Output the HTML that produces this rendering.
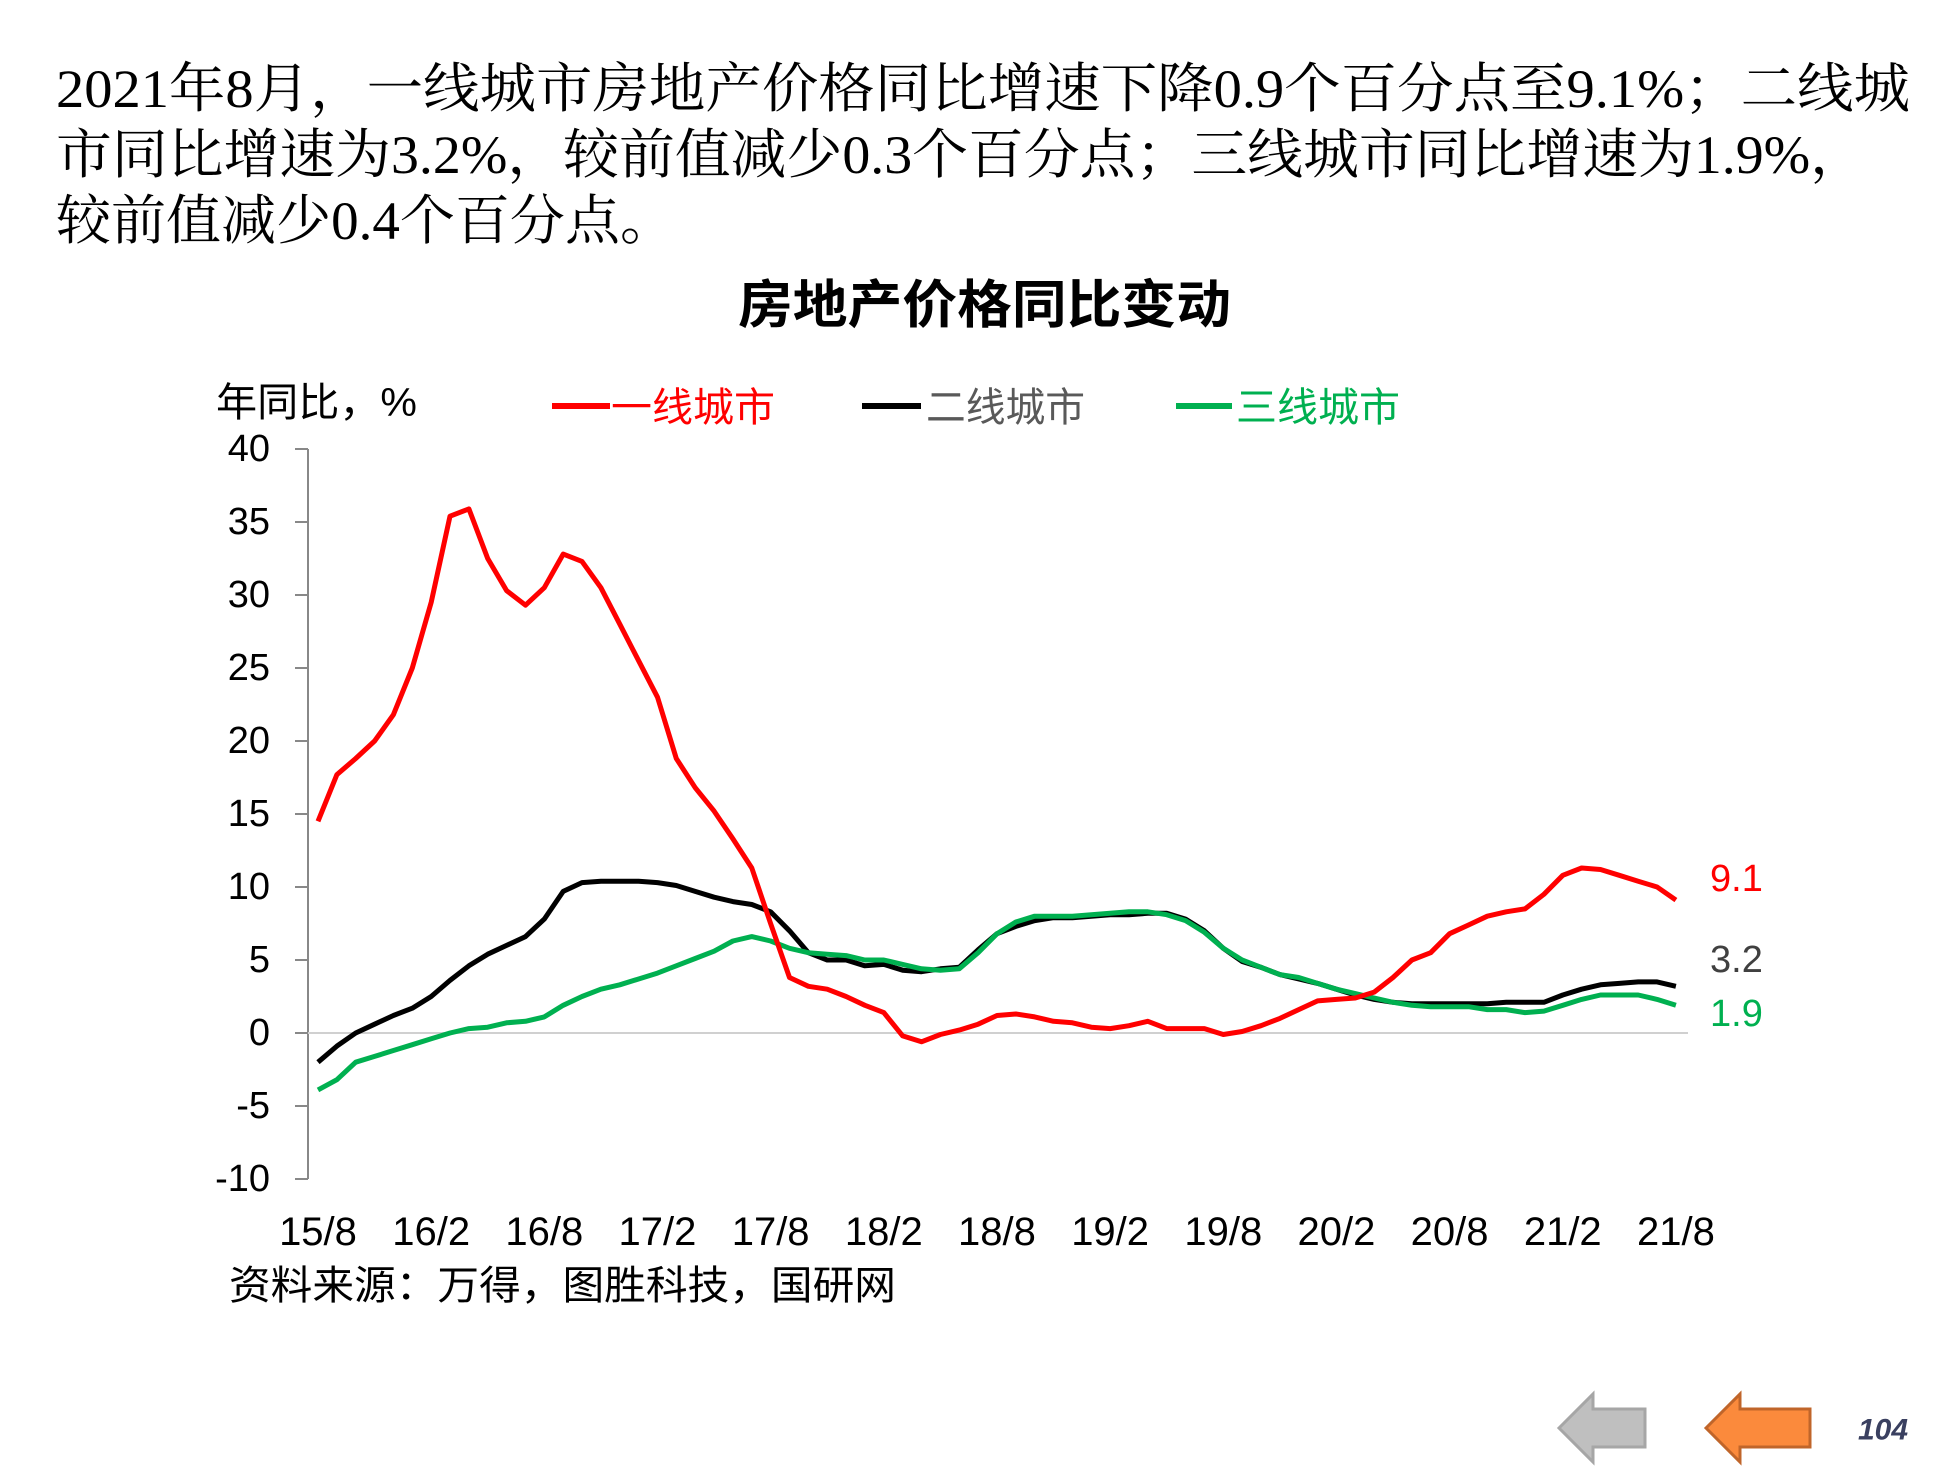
<!DOCTYPE html>
<html><head><meta charset="utf-8"><style>
html,body{margin:0;padding:0;background:#fff;width:1960px;height:1470px;overflow:hidden}
</style></head><body>
<svg id="s" width="1960" height="1470" viewBox="0 0 1960 1470" xmlns="http://www.w3.org/2000/svg">
<g font-family="'Liberation Serif','Noto Serif CJK SC',serif" font-size="54" fill="#000" dominant-baseline="central">
<text x="56" y="89" textLength="1854" lengthAdjust="spacingAndGlyphs">2021年8月，一线城市房地产价格同比增速下降0.9个百分点至9.1%；二线城</text>
<text x="56" y="155" textLength="1810" lengthAdjust="spacingAndGlyphs">市同比增速为3.2%，较前值减少0.3个百分点；三线城市同比增速为1.9%，</text>
<text x="56" y="221" textLength="619" lengthAdjust="spacingAndGlyphs">较前值减少0.4个百分点。</text>
</g>
<text x="738" y="306" font-family="'Liberation Sans','Noto Sans CJK SC',sans-serif" font-weight="bold" font-size="52" dominant-baseline="central" textLength="493" lengthAdjust="spacingAndGlyphs">房地产价格同比变动</text>
<g font-family="'Liberation Sans','Noto Sans CJK SC',sans-serif" font-size="40" dominant-baseline="central">
<text x="216" y="403" textLength="201" lengthAdjust="spacingAndGlyphs">年同比，%</text>
<line x1="552" y1="406" x2="610" y2="406" stroke="#ff0000" stroke-width="6"/>
<text x="611" y="408" fill="#ff0000" textLength="164" lengthAdjust="spacingAndGlyphs">一线城市</text>
<line x1="862" y1="406" x2="921" y2="406" stroke="#000" stroke-width="6"/>
<text x="926" y="408" fill="#595959" textLength="159" lengthAdjust="spacingAndGlyphs">二线城市</text>
<line x1="1176" y1="406" x2="1232" y2="406" stroke="#00b050" stroke-width="6"/>
<text x="1236" y="408" fill="#00b050" textLength="164" lengthAdjust="spacingAndGlyphs">三线城市</text>
</g>
<g id="axes" stroke="#888" stroke-width="2"></g>
<g id="lbl" font-family="'Liberation Sans',sans-serif" font-size="38" fill="#000"></g>
<g id="series" fill="none" stroke-width="5" stroke-linejoin="round"></g>
<g font-family="'Liberation Sans',sans-serif" font-size="38" dominant-baseline="central">
<text x="1710" y="879" fill="#ff0000">9.1</text>
<text x="1710" y="960" fill="#404040">3.2</text>
<text x="1710" y="1014" fill="#00b050">1.9</text>
</g>
<text x="229" y="1286" font-family="'Liberation Sans','Noto Sans CJK SC',sans-serif" font-size="40" dominant-baseline="central" fill="#000" textLength="667" lengthAdjust="spacingAndGlyphs">资料来源：万得，图胜科技，国研网</text>
<polygon points="1559,1428 1593,1394 1593,1409 1645,1409 1645,1447 1593,1447 1593,1462" fill="#bfbfbf" stroke="#a6a6a6" stroke-width="3"/>
<polygon points="1706,1428 1740,1394 1740,1409 1810,1409 1810,1447 1740,1447 1740,1462" fill="#fb8a3c" stroke="#c0652a" stroke-width="3"/>
<text x="1858" y="1430" font-family="'Liberation Sans',sans-serif" font-size="30" font-weight="bold" font-style="italic" fill="#3a4060" dominant-baseline="central">104</text>
</svg>
<script>
var NS="http://www.w3.org/2000/svg";
function el(p,t,a,txt){var e=document.createElementNS(NS,t);for(var k in a)e.setAttribute(k,a[k]);if(txt)e.textContent=txt;document.getElementById(p).appendChild(e);return e;}
var y0=1033,u=14.6,x0=318,dx=18.86;
function Y(v){return y0-v*u;}
el("axes","line",{x1:308,y1:Y(40),x2:308,y2:Y(-10)});
for(var v=-10;v<=40;v+=5){el("axes","line",{x1:295,y1:Y(v),x2:308,y2:Y(v)});
 el("lbl","text",{x:270,y:Y(v),"text-anchor":"end","dominant-baseline":"central"},String(v));}
el("axes","line",{x1:308,y1:y0,x2:1688,y2:y0,stroke:"#d0d0d0"});
var xl=["15/8","16/2","16/8","17/2","17/8","18/2","18/8","19/2","19/8","20/2","20/8","21/2","21/8"];
for(var i=0;i<xl.length;i++)el("lbl","text",{x:x0+i*6*dx,y:1232,"text-anchor":"middle","dominant-baseline":"central","font-size":"40"},xl[i]);
var R=[14.5,17.7,18.8,20,21.8,25,29.5,35.4,35.9,32.5,30.3,29.3,30.5,32.8,32.3,30.5,28,25.5,23,18.8,16.8,15.2,13.3,11.3,7.5,3.8,3.2,3.0,2.5,1.9,1.4,-0.2,-0.6,-0.1,0.2,0.6,1.2,1.3,1.1,0.8,0.7,0.4,0.3,0.5,0.8,0.3,0.3,0.3,-0.1,0.1,0.5,1.0,1.6,2.2,2.3,2.4,2.8,3.8,5.0,5.5,6.8,7.4,8.0,8.3,8.5,9.5,10.8,11.3,11.2,10.8,10.4,10.0,9.1];
var B=[-2,-0.9,0,0.6,1.2,1.7,2.5,3.6,4.6,5.4,6.0,6.6,7.8,9.7,10.3,10.4,10.4,10.4,10.3,10.1,9.7,9.3,9.0,8.8,8.3,7.0,5.5,5.0,5.0,4.6,4.7,4.3,4.2,4.4,4.5,5.7,6.8,7.3,7.7,7.9,7.9,8.0,8.1,8.1,8.2,8.2,7.8,7.0,5.8,4.9,4.5,4.0,3.7,3.4,3.0,2.6,2.3,2.1,2.0,2.0,2.0,2.0,2.0,2.1,2.1,2.1,2.6,3.0,3.3,3.4,3.5,3.5,3.2];
var G=[-3.9,-3.2,-2.0,-1.6,-1.2,-0.8,-0.4,0.0,0.3,0.4,0.7,0.8,1.1,1.9,2.5,3.0,3.3,3.7,4.1,4.6,5.1,5.6,6.3,6.6,6.3,5.8,5.5,5.4,5.3,5.0,5.0,4.7,4.4,4.3,4.4,5.5,6.8,7.6,8.0,8.0,8.0,8.1,8.2,8.3,8.3,8.1,7.7,6.9,5.8,5.0,4.5,4.0,3.8,3.4,3.0,2.7,2.4,2.1,1.9,1.8,1.8,1.8,1.6,1.6,1.4,1.5,1.9,2.3,2.6,2.6,2.6,2.3,1.9];
function pl(d,c){var p=d.map(function(v,i){return (x0+i*dx).toFixed(1)+","+Y(v).toFixed(1)}).join(" ");el("series","polyline",{points:p,stroke:c});}
pl(B,"#000");pl(G,"#00b050");pl(R,"#ff0000");
</script>
</body></html>
